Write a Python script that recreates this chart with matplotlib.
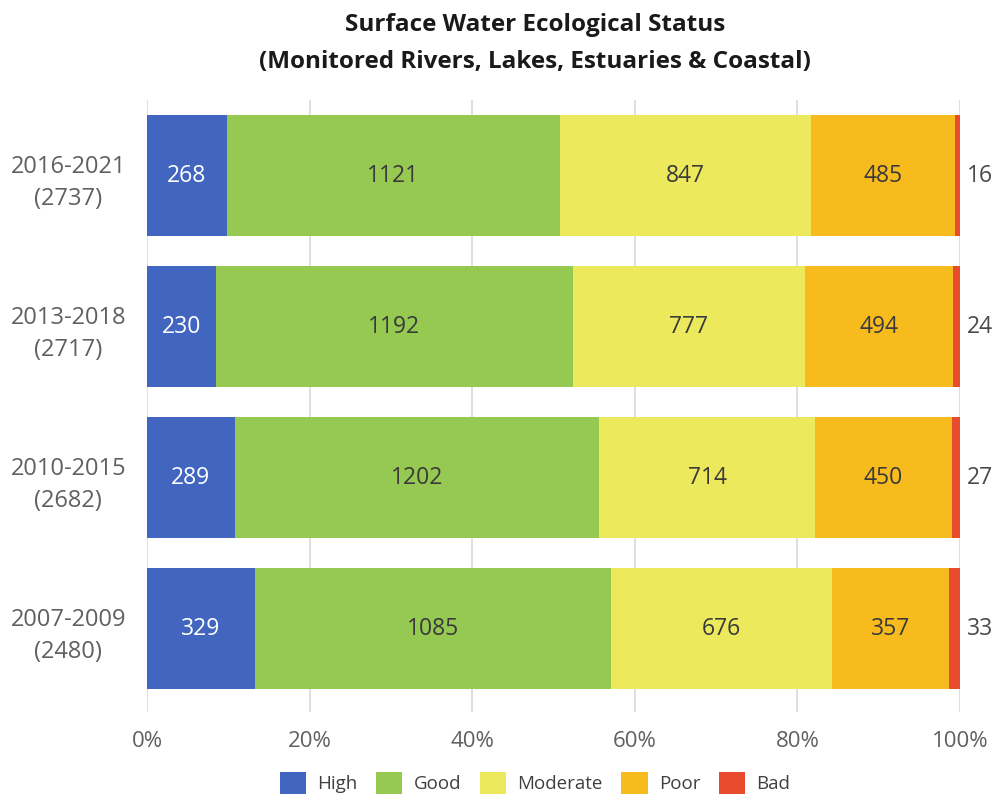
import matplotlib
matplotlib.use("Agg")
import matplotlib.pyplot as plt
import numpy as np
from matplotlib.patches import Patch

plt.rcParams['font.family'] = ['Open Sans', 'DejaVu Sans']

periods = ["2016-2021\n(2737)", "2013-2018\n(2717)", "2010-2015\n(2682)", "2007-2009\n(2480)"]
categories = ["High", "Good", "Moderate", "Poor", "Bad"]
high = [268, 230, 289, 329]
good = [1121, 1192, 1202, 1085]
moderate = [847, 777, 714, 676]
poor = [485, 494, 450, 357]
bad = [16, 24, 27, 33]
xticks = [0, 20, 40, 60, 80, 100]

colors = ["#4266bf", "#95c952", "#ecea5c", "#f7bb1e", "#e94b2e"]
text_colors = ["#ffffff", "#3a3a3a", "#3a3a3a", "#3a3a3a", "#3a3a3a"]

data = np.array([high, good, moderate, poor, bad], dtype=float)
totals = data.sum(axis=0)
pct = data / totals * 100

fig = plt.figure(figsize=(10.01, 8.09), dpi=100)
ax = fig.add_axes([147/1001, 1-712/809, (960-147)/1001, (712-100)/809])

y = np.arange(len(periods))
left = np.zeros(len(periods))
for i, cat in enumerate(categories):
    ax.barh(y, pct[i], left=left, height=0.8, color=colors[i], label=cat, zorder=3)
    for j in range(len(periods)):
        val = int(data[i, j])
        if cat == "Bad":
            ax.annotate(str(val), xy=(left[j] + pct[i, j], y[j]), xytext=(5, 0),
                        textcoords="offset points", ha="left", va="center",
                        fontsize=16.5, color="#4a4a4a")
        else:
            ax.text(left[j] + pct[i, j] / 2, y[j], str(val), ha="center", va="center",
                    fontsize=16.5, color=text_colors[i], zorder=4)
    left += pct[i]

ax.set_xlim(0, 100)
ax.set_ylim(3.55, -0.5)
ax.set_xticks(xticks)
ax.set_xticklabels([f"{t}%" for t in xticks], fontsize=16, color="#606060")
ax.set_yticks(y)
ax.set_yticklabels(periods, fontsize=17, color="#606060", ha="right",
                   multialignment="center", linespacing=1.45)
ax.tick_params(axis="both", length=0)
ax.tick_params(axis="x", pad=14)
ax.tick_params(axis="y", pad=15)
for s in ax.spines.values():
    s.set_visible(False)
ax.grid(axis="x", color="#d9d9d9", linewidth=1.2, zorder=0)
ax.set_axisbelow(True)

fig.text(535/1001, 1-25/809, "Surface Water Ecological Status", ha="center", va="center",
         fontsize=17.5, fontweight="bold", color="#1a1a1a")
fig.text(535/1001, 1-62/809, "(Monitored Rivers, Lakes, Estuaries & Coastal)", ha="center", va="center",
         fontsize=17.5, fontweight="bold", color="#1a1a1a")

handles = [Patch(facecolor=c, label=l) for c, l in zip(colors, categories)]
fig.legend(handles=handles, loc="center", bbox_to_anchor=(535/1001, 1-783/809), ncol=5,
           frameon=False, fontsize=13.5, handlelength=1.4, handleheight=1.4,
           columnspacing=1.0, handletextpad=0.6, labelcolor="#404040")

fig.savefig("out.png", dpi=100)
